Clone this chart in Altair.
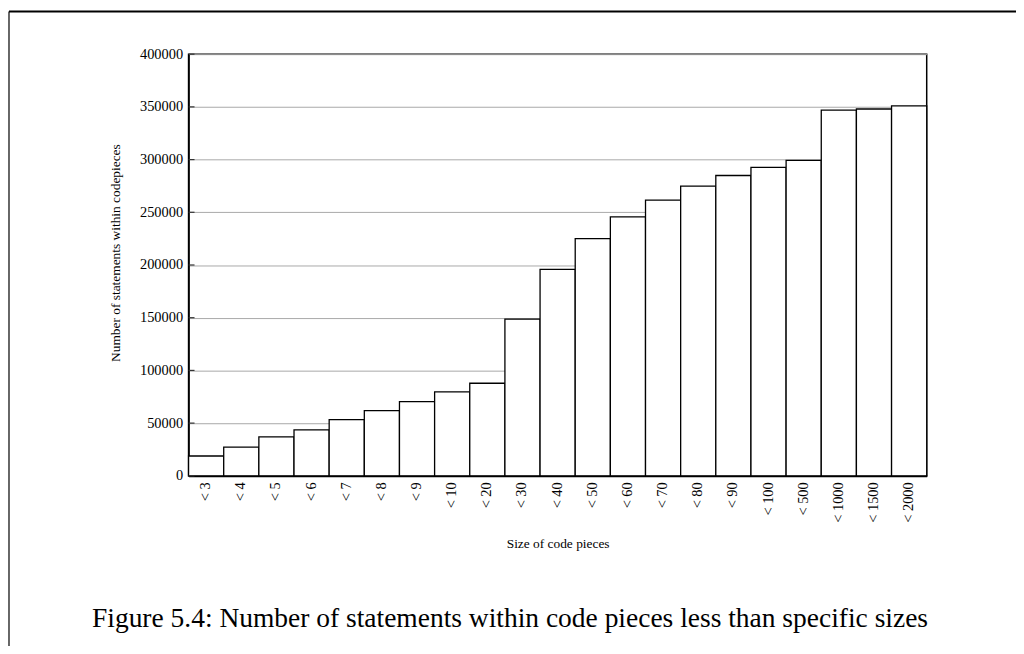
import altair as alt
import pandas as pd

sizes = ["< 3", "< 4", "< 5", "< 6", "< 7", "< 8", "< 9", "< 10", "< 20", "< 30",
         "< 40", "< 50", "< 60", "< 70", "< 80", "< 90", "< 100", "< 500",
         "< 1000", "< 1500", "< 2000"]
statements = [18800, 27300, 37000, 43600, 53300, 61800, 70300, 79700, 87800, 148700,
              195800, 225000, 245600, 261600, 274800, 284900, 292700, 299300,
              347000, 348000, 351000]
y_ticks = [0, 50000, 100000, 150000, 200000, 250000, 300000, 350000, 400000]
caption = ["Figure 5.4: Number of statements within code pieces less than specific sizes"]

FONT = "Liberation Serif"

bars_df = pd.DataFrame({"size": sizes, "value": statements})
ticks_df = pd.DataFrame({"value": y_ticks})
cap_df = pd.DataFrame({"text": caption})

W, H = 744, 425

bars = alt.Chart(bars_df).mark_bar(
    fill="white", stroke="black", strokeWidth=1.3
).encode(
    x=alt.X("size:N", sort=sizes,
            scale=alt.Scale(paddingInner=0, paddingOuter=0),
            axis=alt.Axis(title="Size of code pieces", labelAngle=-90,
                          labelPadding=6, ticks=False, titlePadding=14,
                          domainColor="black", domainWidth=2)),
    y=alt.Y("value:Q",
            scale=alt.Scale(domain=[0, 400000], nice=False),
            axis=alt.Axis(title="Number of statements within codepieces",
                          values=y_ticks, format="d", ticks=False, labelPadding=6,
                          titlePadding=17, titleY=200, grid=True, gridColor="#a8a8a8",
                          gridWidth=1, domainColor="black", domainWidth=1.5)),
)

tick_marks = alt.Chart(ticks_df).mark_rule(color="#333333", strokeWidth=1.2).encode(
    y=alt.Y("value:Q"),
    x=alt.value(0),
    x2=alt.value(6),
)

frame_left = alt.Chart(cap_df).mark_rule(color="#666666", strokeWidth=2).encode(
    x=alt.value(-181),
    y=alt.value(-43),
    y2=alt.value(600),
)
frame_top = alt.Chart(cap_df).mark_rule(color="black", strokeWidth=2).encode(
    x=alt.value(-181),
    x2=alt.value(W + 100),
    y=alt.value(-43),
)

cap = alt.Chart(cap_df).mark_text(
    font=FONT, fontSize=27.7, color="black", align="center", baseline="middle"
).encode(
    text="text:N",
    x=alt.value(324),
    y=alt.value(569),
)

chart = alt.layer(bars, tick_marks, frame_left, frame_top, cap).properties(
    width=W, height=H,
    background="white",
    autosize=alt.AutoSizeParams(type="none"),
    padding={"left": 182, "top": 44, "right": 90, "bottom": 169},
).configure_view(
    stroke="black", strokeWidth=1.5
).configure_axis(
    labelFont=FONT, titleFont=FONT, labelFontSize=14.5, titleFontSize=13.5,
    labelColor="black", titleColor="black", titleFontWeight="normal",
)

chart.save("out.html", embed_options={"renderer": "svg", "actions": False})
